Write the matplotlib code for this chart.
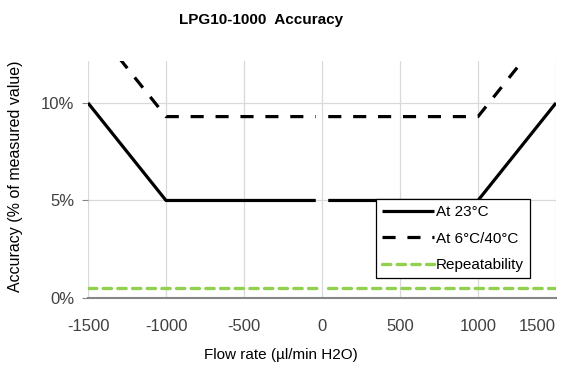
import numpy as np
import matplotlib
matplotlib.use("Agg")
import matplotlib.pyplot as plt
from matplotlib.ticker import FuncFormatter

plt.rcParams['font.family'] = ['Liberation Sans', 'DejaVu Sans']
plt.rcParams['axes.unicode_minus'] = False

flow = [-1500, -1000, -40, np.nan, 40, 1000, 1500]
acc_23 = [10.0, 5.0, 5.0, np.nan, 5.0, 5.0, 10.0]
acc_6_40 = [14.3, 9.3, 9.3, np.nan, 9.3, 9.3, 14.3]
flow_rep = [-1500, -10, np.nan, 40, 1500]
repeat = [0.5, 0.5, np.nan, 0.5, 0.5]
xticks = [-1500, -1000, -500, 0, 500, 1000, 1500]
yticks = [0, 5, 10]

fig = plt.figure(figsize=(5.66, 3.70), dpi=100)
ax = fig.add_axes([88/566, 1-298/370, (556-88)/566, (298-61)/370])

ax.plot(flow, acc_23, color='black', lw=2.3, solid_capstyle='butt', label='At 23°C', zorder=3)
ax.plot(flow, acc_6_40, color='black', lw=2.3, dashes=(4.1, 3.7), dash_capstyle='butt', label='At 6°C/40°C', zorder=3)
ax.plot(flow_rep, repeat, color='#92d050', lw=2.4, dashes=(2.5, 1.9), dash_capstyle='round', label='Repeatability', zorder=3)

ax.set_xlim(-1500, 1500)
ax.set_ylim(0, 12.15)
ax.set_xticks(xticks)
ax.set_yticks(yticks)
ax.yaxis.set_major_formatter(FuncFormatter(lambda v, p: f"{v:.0f}%"))
ax.grid(True, color='#d9d9d9', lw=0.9, zorder=0)
ax.set_axisbelow(True)
for s in ['top', 'right', 'left']:
    ax.spines[s].set_visible(False)
ax.spines['bottom'].set_color('#868686')
ax.spines['bottom'].set_linewidth(1.5)
ax.tick_params(axis='x', length=0, pad=15, labelsize=12, labelcolor='#404040')
ax.tick_params(axis='y', length=4, color='#868686', width=0.8, labelsize=12, labelcolor='#404040', pad=6)
labels = ax.get_xticklabels()
labels[-1].set_horizontalalignment('right')

ax.set_xlabel('Flow rate (µl/min H2O)', fontsize=11, labelpad=13)
ax.xaxis.set_label_coords((281-88)/(556-88), -(355-298)/(298-61))
ax.xaxis.label.set_va('center')
ax.set_ylabel('Accuracy (% of measured value)', fontsize=11.5, labelpad=6)
ax.yaxis.set_label_coords(-(88-16)/(556-88), (298-176)/(298-61))
ax.yaxis.label.set_va('center')
fig.text(261/566, 1-20/370, 'LPG10-1000  Accuracy', ha='center', va='center', fontsize=11, fontweight='bold')

leg = ax.legend(loc='upper left', bbox_to_anchor=((376-88)/(556-88), (298-199)/(298-61)),
                frameon=True, fancybox=False, edgecolor='black', framealpha=1,
                fontsize=11, handlelength=3.4, handletextpad=0.1, borderpad=0.4,
                labelspacing=0.82, borderaxespad=0)
leg.get_frame().set_linewidth(0.9)
leg.set_zorder(5)

fig.savefig('out.png', dpi=100)
